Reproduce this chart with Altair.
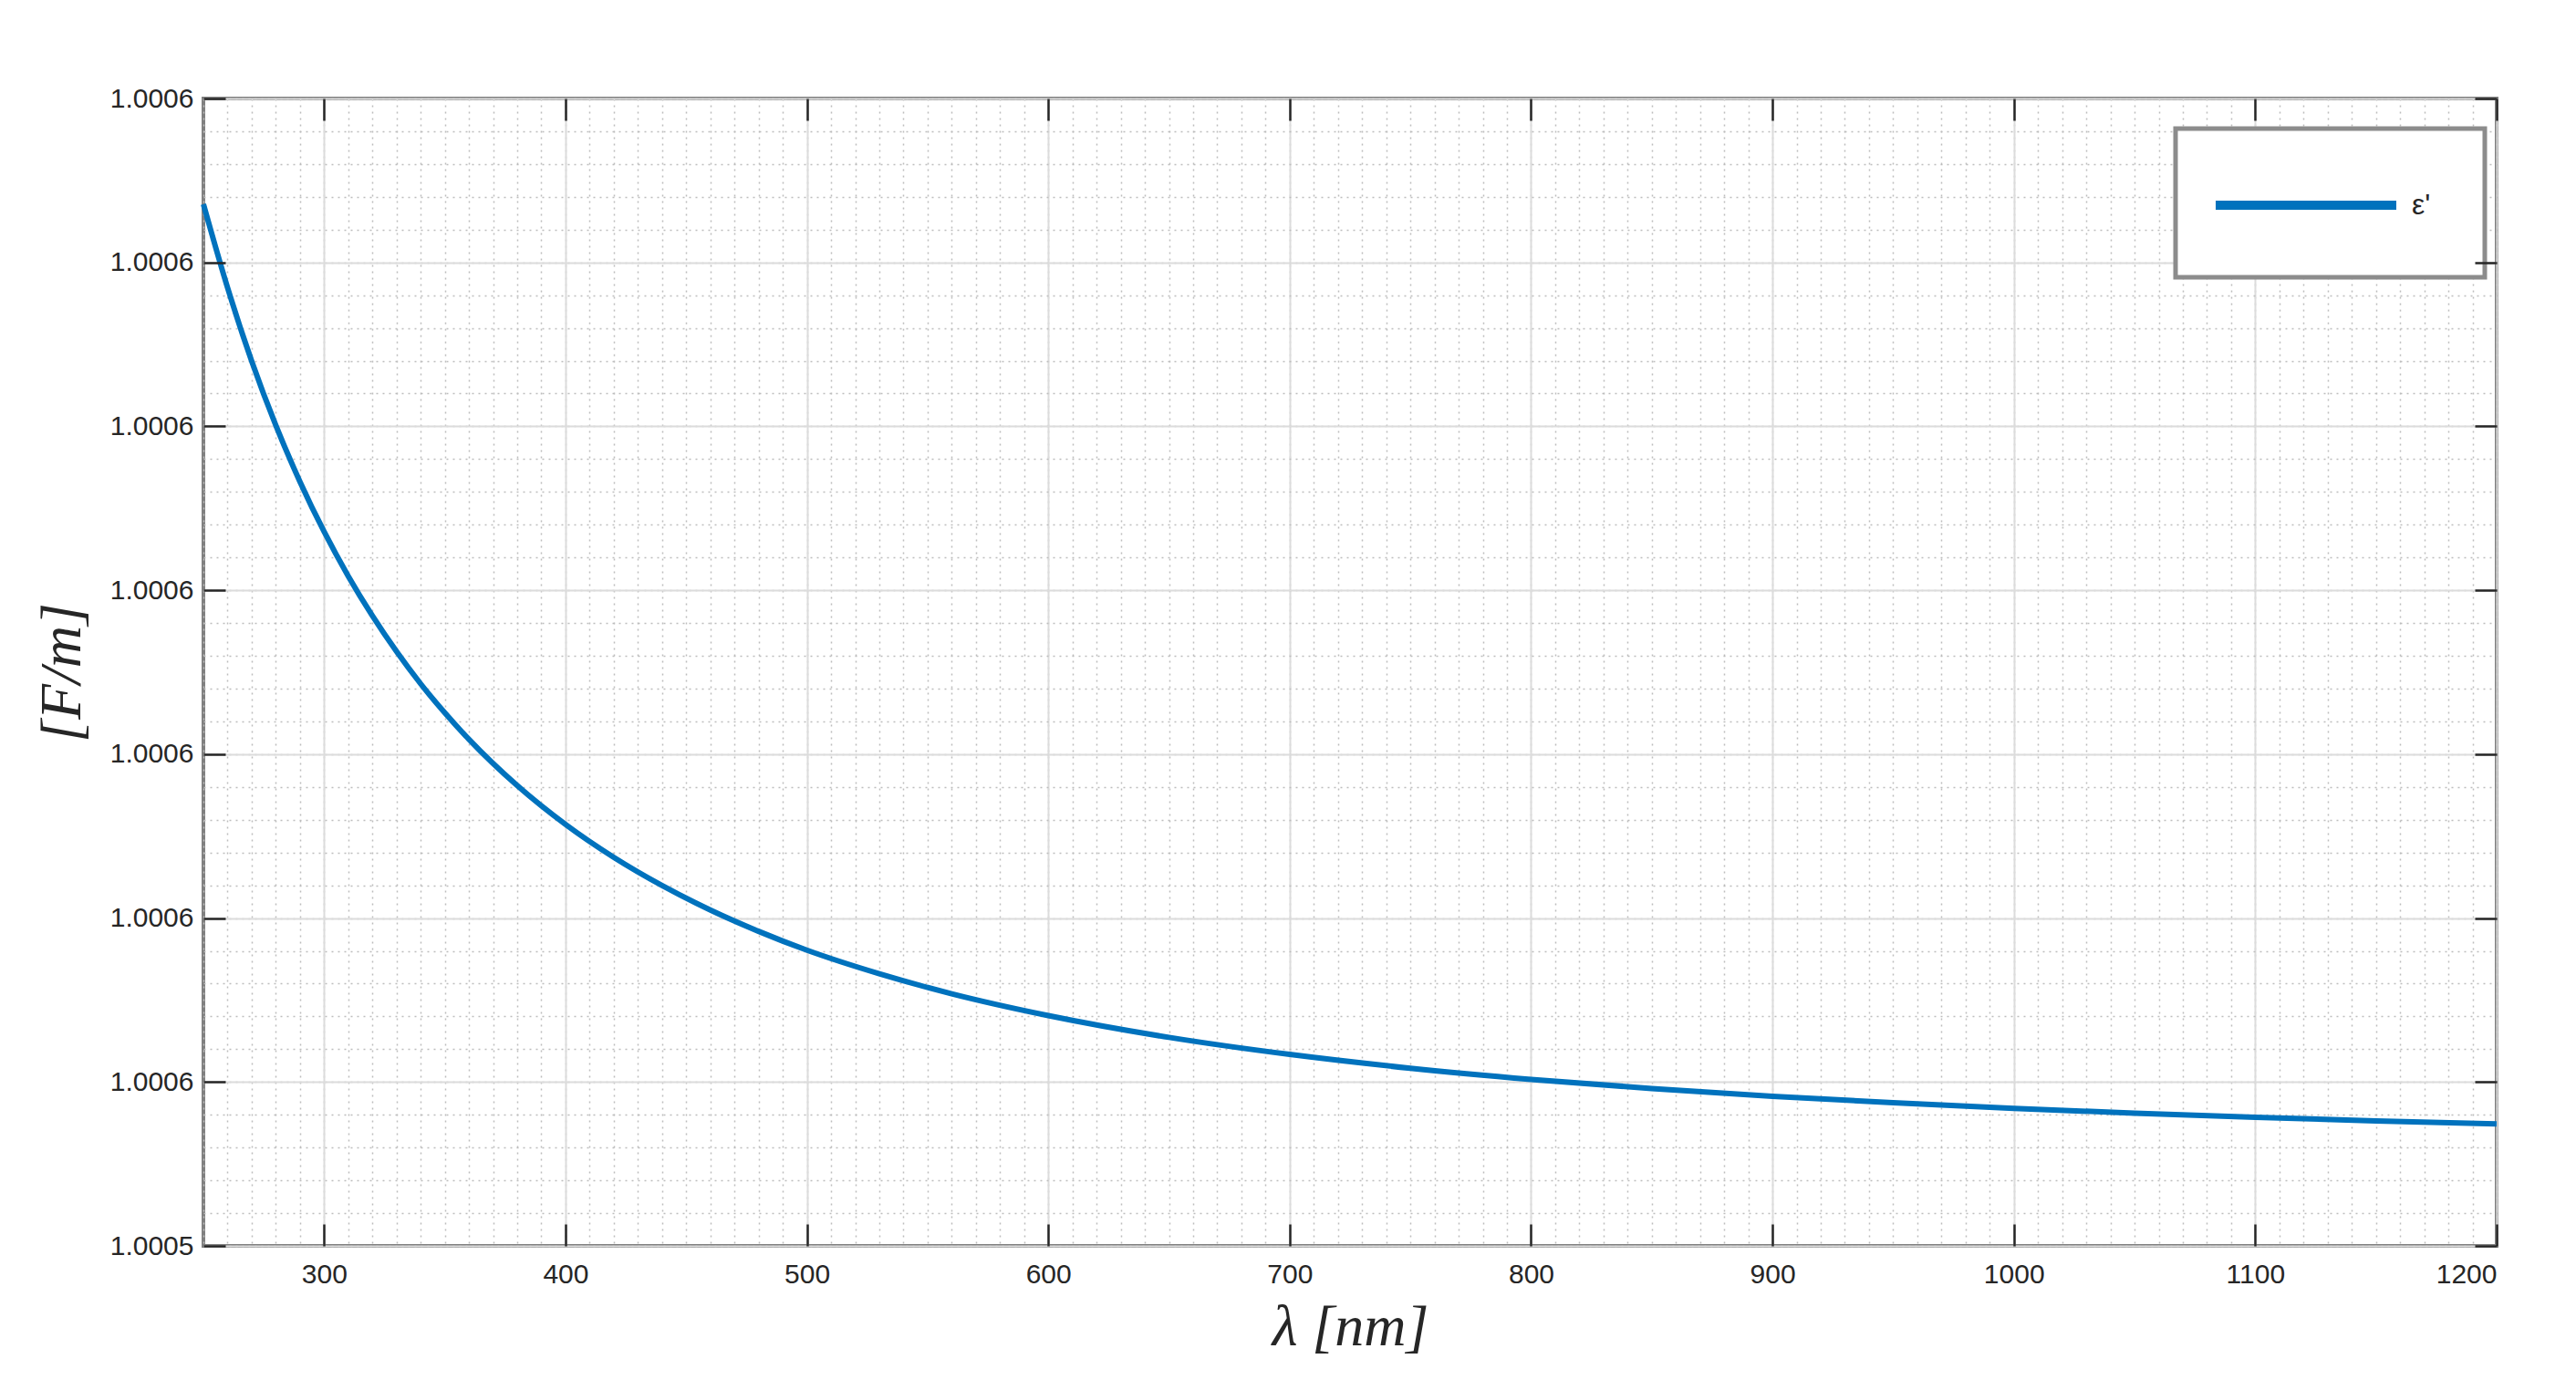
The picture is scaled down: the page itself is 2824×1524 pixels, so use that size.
import altair as alt
import numpy as np
import pandas as pd

# ---- data ----
wavelength_nm = [250, 260, 270, 280, 290, 300, 310, 320, 330, 340, 350, 360, 380, 400,
                 420, 440, 460, 480, 500, 530, 560, 600, 650, 700, 750, 800, 850, 900,
                 950, 1000, 1050, 1100, 1150, 1200]
epsilon_prime = [1.00060355, 1.00059846, 1.00059398, 1.00059006, 1.00058662, 1.00058357,
                 1.00058086, 1.00057844, 1.00057626, 1.00057429, 1.00057252, 1.00057090,
                 1.00056808, 1.00056571, 1.00056370, 1.00056198, 1.00056049, 1.00055919,
                 1.00055804, 1.00055660, 1.00055538, 1.00055405, 1.00055272, 1.00055168,
                 1.00055084, 1.00055016, 1.00054960, 1.00054913, 1.00054873, 1.00054839,
                 1.00054810, 1.00054785, 1.00054763, 1.00054744]
series_name = "ε'"

x_ticks = [300, 400, 500, 600, 700, 800, 900, 1000, 1100, 1200]
y_ticks = [1.00054, 1.00055, 1.00056, 1.00057, 1.00058, 1.00059, 1.00060, 1.00061]
y_tick_labels = ["1.0005", "1.0006", "1.0006", "1.0006", "1.0006", "1.0006", "1.0006", "1.0006"]
x_domain = [250, 1200]
y_domain = [1.00054, 1.00061]

# minor grid positions
x_minor = [float(v) for v in np.arange(250, 1201, 10)]
y_minor = [1.00054 + k * 2e-6 for k in range(36)]

df = pd.DataFrame({"wavelength": wavelength_nm, "eps": epsilon_prime, "series": series_name})

label_expr = "''"
for v, l in reversed(list(zip(y_ticks, y_tick_labels))):
    label_expr = f"abs(datum.value - {v!r}) < 1e-9 ? '{l}' : ({label_expr})"

W, H = 2514, 1258
TXT = "#262626"
LBL_FONT = "Liberation Sans"
TTL_FONT = "Liberation Serif"

xs = alt.Scale(domain=x_domain, nice=False, zero=False)
ys = alt.Scale(domain=y_domain, nice=False, zero=False)

base = alt.Chart(df)

minor = base.mark_line(opacity=0).encode(
    x=alt.X("wavelength:Q", scale=xs, axis=alt.Axis(
        orient="bottom", values=x_minor, grid=True, gridDash=[2, 5], gridColor="#bdbdbd",
        gridWidth=1.5, labels=False, ticks=False, domain=False, title=None, zindex=0)),
    y=alt.Y("eps:Q", scale=ys, axis=alt.Axis(
        orient="left", values=y_minor, grid=True, gridDash=[2, 5], gridColor="#bdbdbd",
        gridWidth=1.5, labels=False, ticks=False, domain=False, title=None, zindex=0)),
)

major = base.mark_line(opacity=0).encode(
    x=alt.X("wavelength:Q", scale=xs, axis=alt.Axis(
        orient="bottom", values=x_ticks, format="d", grid=True, gridColor="#dcdcdc", gridWidth=2,
        labels=True, labelFont=LBL_FONT, labelFontSize=30, labelColor=TXT, labelPadding=16,
        ticks=False, domain=False, zindex=0,
        title="λ [nm]", titleFont=TTL_FONT, titleFontStyle="italic", titleFontWeight="normal",
        titleFontSize=64, titleColor=TXT, titleX=W / 2, titleY=89,
        titleAlign="center", titleBaseline="middle")),
    y=alt.Y("eps:Q", scale=ys, axis=alt.Axis(
        orient="left", values=y_ticks, grid=True, gridColor="#dcdcdc", gridWidth=2,
        labels=True, labelExpr=label_expr, labelFont=LBL_FONT, labelFontSize=30,
        labelColor=TXT, labelPadding=11, ticks=False, domain=False, zindex=0,
        title="[F/m]", titleFont=TTL_FONT, titleFontStyle="italic", titleFontWeight="normal",
        titleFontSize=64, titleColor=TXT, titleX=-155, titleY=H / 2,
        titleAlign="center", titleBaseline="middle", titleAngle=270)),
)

def tick_axis(orient, vals):
    return alt.Axis(orient=orient, values=vals, offset=-24, tickSize=24, ticks=True,
                    tickColor=TXT, tickWidth=2.5, labels=False, grid=False, domain=False,
                    title=None, zindex=1)

ticks_bl = base.mark_line(opacity=0).encode(
    x=alt.X("wavelength:Q", scale=xs, axis=tick_axis("bottom", x_ticks)),
    y=alt.Y("eps:Q", scale=ys, axis=tick_axis("left", y_ticks)),
)
ticks_tr = base.mark_line(opacity=0).encode(
    x=alt.X("wavelength:Q", scale=xs, axis=tick_axis("top", x_ticks)),
    y=alt.Y("eps:Q", scale=ys, axis=tick_axis("right", y_ticks)),
)

curve = base.mark_line(strokeWidth=6, interpolate="monotone").encode(
    x=alt.X("wavelength:Q", scale=xs, axis=None),
    y=alt.Y("eps:Q", scale=ys, axis=None),
    color=alt.Color("series:N", scale=alt.Scale(domain=[series_name], range=["#0072BD"]),
                    legend=alt.Legend(orient="none", legendX=2162, legendY=33, title=None,
                                      symbolType="M-2,0H7.9", symbolStrokeWidth=10,
                                      symbolSize=40 * 40, labelFontSize=32, labelOffset=150,
                                      labelFont=LBL_FONT, labelColor=TXT, padding=59,
                                      strokeColor="#8c8c8c", fillColor="white")),
)

chart = alt.layer(minor, major, ticks_bl, ticks_tr, curve).resolve_axis(
    x="independent", y="independent"
).properties(
    width=W, height=H,
    autosize=alt.AutoSizeParams(type="none"),
    padding={"left": 215, "top": 100, "right": 79, "bottom": 150},
).configure_view(
    stroke="#808080", strokeWidth=4
).configure_legend(
    strokeWidth=5
)

chart.save("out.html", embed_options={"renderer": "svg", "actions": False})
